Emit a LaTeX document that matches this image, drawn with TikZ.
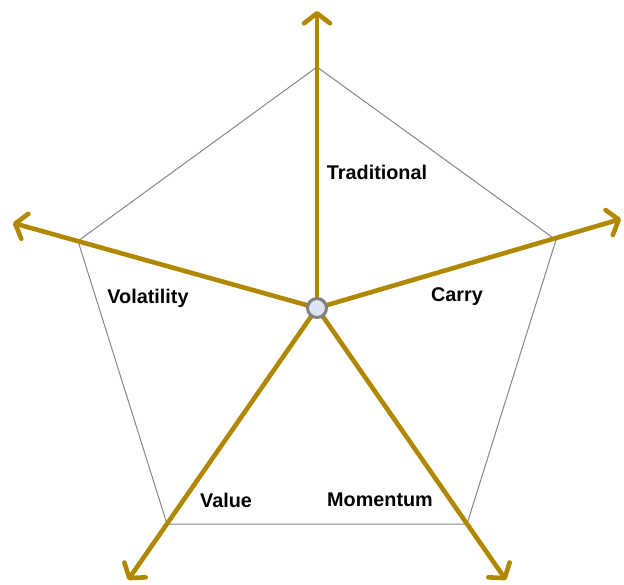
\documentclass[tikz,border=0pt]{standalone}
\usepackage{fontspec}
\setmainfont{Liberation Sans}
\usetikzlibrary{arrows.meta}
\definecolor{axisgold}{RGB}{176,136,0}
\definecolor{hubfill}{RGB}{222,229,242}
\definecolor{hubdraw}{RGB}{128,128,128}
\begin{document}
\begin{tikzpicture}[x=1pt,y=-1pt,
  axis/.style={draw=axisgold,line width=4.6pt,line cap=round,
    -{Straight Barb[length=10pt,width=26pt,line width=4.6pt,round]}},
  web/.style={draw=gray!95,line width=1pt},
  lbl/.style={font=\bfseries\fontsize{19.8}{22}\selectfont,inner sep=0pt},
  hub/.style={circle,draw=hubdraw,fill=hubfill,line width=3pt,minimum size=19pt,inner sep=0pt}]
\useasboundingbox (0,0) rectangle (624,585);
\coordinate (c) at (317,308);
\coordinate (v1) at (317,67);
\coordinate (v2) at (556,240);
\coordinate (v3) at (467,524);
\coordinate (v4) at (167,524);
\coordinate (v5) at (78,241);
\coordinate (t1) at (317,11);
\coordinate (t2) at (621,219);
\coordinate (t3) at (506,580);
\coordinate (t4) at (128,580);
\coordinate (t5) at (13,223);
\draw[web] (v1) -- (v2) -- (v3) -- (v4) -- (v5) -- cycle;
\foreach \t in {t1,t2,t3,t4,t5} \draw[axis] (c) -- (\t);
\node[hub] (h) at (c) {};
\node[lbl] (l1) at (377,172) {Traditional};
\node[lbl] (l2) at (457,297) {Carry};
\node[lbl] (l3) at (148,298) {Volatility};
\node[lbl] (l4) at (226,500) {Value};
\node[lbl] (l5) at (380,500) {Momentum};
\end{tikzpicture}
\end{document}
